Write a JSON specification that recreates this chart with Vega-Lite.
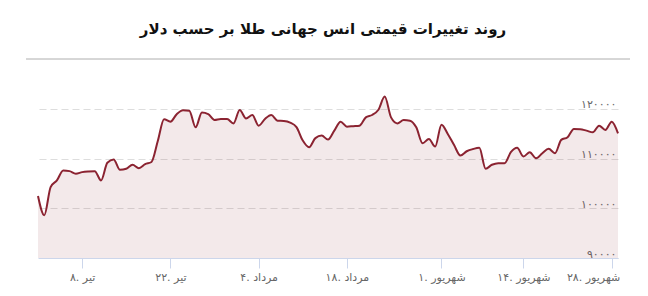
{
  "$schema": "https://vega.github.io/schema/vega-lite/v6.json",
  "autosize": "none",
  "width": 580,
  "height": 199,
  "padding": {"left": 38, "right": 30, "top": 59, "bottom": 38},
  "background": "#ffffff",
  "config": {"view": {"stroke": null}, "font": "DejaVu Sans"},
  "title": {
    "text": "روند تغییرات قیمتی انس جهانی طلا بر حسب دلار",
    "font": "DejaVu Sans",
    "fontSize": 15,
    "fontWeight": "bold",
    "color": "#111111",
    "anchor": "middle",
    "dx": -5,
    "offset": 22
  },
  "data": {
    "values": [
      {"day": 1, "price": 102460}, {"day": 2, "price": 98600}, {"day": 3, "price": 104260},
      {"day": 4, "price": 105600}, {"day": 5, "price": 107600}, {"day": 6, "price": 107460},
      {"day": 7, "price": 106940}, {"day": 8, "price": 107260}, {"day": 9, "price": 107400},
      {"day": 10, "price": 107460}, {"day": 11, "price": 105600}, {"day": 12, "price": 109140},
      {"day": 13, "price": 109800}, {"day": 14, "price": 107740}, {"day": 15, "price": 107940},
      {"day": 16, "price": 108740}, {"day": 17, "price": 108060}, {"day": 18, "price": 108860},
      {"day": 19, "price": 109300}, {"day": 20, "price": 113500}, {"day": 21, "price": 117900},
      {"day": 22, "price": 117400}, {"day": 23, "price": 118900}, {"day": 24, "price": 119700},
      {"day": 25, "price": 119600}, {"day": 26, "price": 116260}, {"day": 27, "price": 119260},
      {"day": 28, "price": 118940}, {"day": 29, "price": 117740}, {"day": 30, "price": 117940},
      {"day": 31, "price": 117940}, {"day": 32, "price": 117060}, {"day": 33, "price": 119740},
      {"day": 34, "price": 118060}, {"day": 35, "price": 118740}, {"day": 36, "price": 116600},
      {"day": 37, "price": 117940}, {"day": 38, "price": 118740}, {"day": 39, "price": 117600},
      {"day": 40, "price": 117540}, {"day": 41, "price": 117200}, {"day": 42, "price": 116300},
      {"day": 43, "price": 113600}, {"day": 44, "price": 112260}, {"day": 45, "price": 114100},
      {"day": 46, "price": 114600}, {"day": 47, "price": 113800}, {"day": 48, "price": 115600},
      {"day": 49, "price": 117400}, {"day": 50, "price": 116400}, {"day": 51, "price": 116500},
      {"day": 52, "price": 116600}, {"day": 53, "price": 118260}, {"day": 54, "price": 118740},
      {"day": 55, "price": 119800}, {"day": 56, "price": 122460}, {"day": 57, "price": 118260},
      {"day": 58, "price": 117060}, {"day": 59, "price": 117740}, {"day": 60, "price": 117600},
      {"day": 61, "price": 116260}, {"day": 62, "price": 113060}, {"day": 63, "price": 113940},
      {"day": 64, "price": 112400}, {"day": 65, "price": 116800}, {"day": 66, "price": 114940},
      {"day": 67, "price": 112700}, {"day": 68, "price": 110600}, {"day": 69, "price": 111460},
      {"day": 70, "price": 111900}, {"day": 71, "price": 112140}, {"day": 72, "price": 107940},
      {"day": 73, "price": 108740}, {"day": 74, "price": 109060}, {"day": 75, "price": 109060},
      {"day": 76, "price": 111260}, {"day": 77, "price": 112140}, {"day": 78, "price": 110400},
      {"day": 79, "price": 111260}, {"day": 80, "price": 110060}, {"day": 81, "price": 111060},
      {"day": 82, "price": 111940}, {"day": 83, "price": 111060}, {"day": 84, "price": 113740},
      {"day": 85, "price": 114260}, {"day": 86, "price": 115940}, {"day": 87, "price": 115900},
      {"day": 88, "price": 115600}, {"day": 89, "price": 115260}, {"day": 90, "price": 116600},
      {"day": 91, "price": 115740}, {"day": 92, "price": 117400}, {"day": 93, "price": 115060}
    ]
  },
  "encoding": {
    "x": {
      "field": "day",
      "type": "quantitative",
      "scale": {"domain": [1, 93], "nice": false, "zero": false},
      "axis": {
        "title": null,
        "values": [8, 22, 36, 50, 65, 78, 92],
        "labelExpr": "datum.value == 8 ? '۸. تیر' : datum.value == 22 ? '۲۲. تیر' : datum.value == 36 ? '۴. مرداد' : datum.value == 50 ? '۱۸. مرداد' : datum.value == 65 ? '۱. شهریور' : datum.value == 78 ? '۱۴. شهریور' : '۲۸. شهریور'",
        "grid": false,
        "domainColor": "#ccd6eb",
        "tickColor": "#ccd6eb",
        "tickSize": 10,
        "labelColor": "#666666",
        "labelFont": "DejaVu Sans",
        "labelFontSize": 11,
        "labelPadding": 3,
        "labelFlush": 10,
        "labelFlushOffset": 8,
        "labelOverlap": false
      }
    },
    "y": {
      "field": "price",
      "type": "quantitative",
      "scale": {"domain": [90000, 130000], "nice": false, "zero": false},
      "axis": {
        "title": null,
        "orient": "right",
        "values": [90000, 100000, 110000, 120000],
        "labelExpr": "datum.value == 90000 ? '۹۰۰۰۰' : datum.value == 100000 ? '۱۰۰۰۰۰' : datum.value == 110000 ? '۱۱۰۰۰۰' : '۱۲۰۰۰۰'",
        "domain": false,
        "ticks": false,
        "tickSize": 0,
        "grid": true,
        "gridColor": "#dddddd",
        "gridDash": [7, 4],
        "labelAlign": "right",
        "labelBaseline": "alphabetic",
        "labelOffset": -1,
        "labelPadding": -2,
        "labelColor": "#666666",
        "labelFont": "DejaVu Sans",
        "labelFontSize": 11
      }
    }
  },
  "layer": [
    {
      "mark": {"type": "area", "interpolate": "monotone", "color": "#8b2331", "opacity": 0.1},
      "encoding": {"y2": {"datum": 90000}}
    },
    {
      "mark": {"type": "rule", "color": "#d6d6d6", "strokeWidth": 1},
      "encoding": {
        "x": {"datum": -0.9},
        "x2": {"datum": 94.9},
        "y": {"datum": 130000}
      }
    },
    {
      "mark": {"type": "line", "interpolate": "monotone", "color": "#8b2331", "strokeWidth": 2}
    }
  ]
}
